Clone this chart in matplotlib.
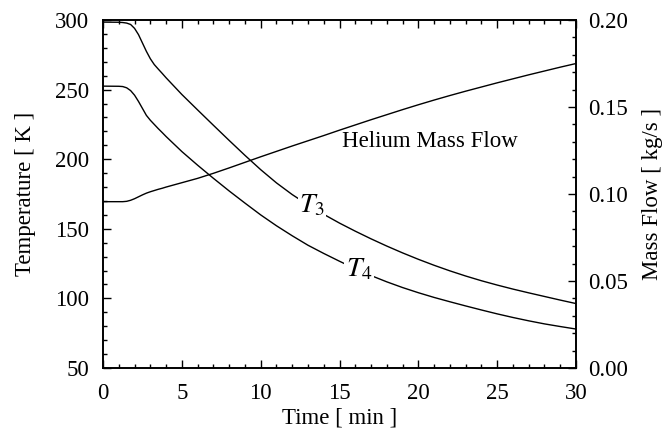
import matplotlib
matplotlib.use('Agg')
import matplotlib.pyplot as plt
from matplotlib.ticker import MultipleLocator

plt.rcParams['font.family'] = ['Liberation Serif', 'DejaVu Serif']
plt.rcParams['mathtext.fontset'] = 'stix'

# time [min]
time = [0, 1, 1.25, 1.5, 1.75, 2, 2.25, 2.5, 2.75, 3, 3.25, 3.5, 3.75, 4,
        5, 6, 7, 8, 9, 10, 11, 12, 13, 14, 15, 16, 17, 18, 19, 20, 21, 22,
        23, 24, 25, 26, 27, 28, 29, 30]
# temperatures [K]
t3 = [298.5, 298.4, 298.2, 297.8, 296.8, 294, 289.5, 283.5, 277.5, 272.2,
      268, 264.8, 261.7, 258.5, 246.5, 235.4, 224.4, 213.5, 202.8, 192.5,
      183, 174.6, 167.2, 160.4, 154.1, 148.3, 142.8, 137.6, 132.7, 128.1,
      123.8, 119.8, 116.1, 112.7, 109.6, 106.7, 104, 101.4, 98.8, 96.3]
t4 = [252.5, 252.4, 252.2, 251.3, 249.3, 246, 241.5, 236.5, 231.5, 228,
      225, 222, 219.2, 216.3, 205.5, 195.7, 186.3, 177.2, 168.5, 160,
      152.2, 145, 138.2, 132.3, 126.7, 121.3, 116.4, 111.9, 107.8, 104.1,
      100.7, 97.6, 94.6, 91.7, 88.9, 86.3, 83.9, 81.7, 79.8, 78]
# helium mass flow [kg/s]
flow = [0.0956, 0.0956, 0.0956, 0.0958, 0.0964, 0.0973, 0.0984, 0.0995,
        0.1005, 0.1013, 0.1020, 0.1027, 0.1033, 0.1040, 0.1065, 0.1090,
        0.1119, 0.1150, 0.1182, 0.1214, 0.1245, 0.1276, 0.1306, 0.1336,
        0.1367, 0.1397, 0.1427, 0.1456, 0.1485, 0.1513, 0.1540, 0.1566,
        0.1591, 0.1615, 0.1639, 0.1662, 0.1685, 0.1707, 0.1729, 0.1750]

fig = plt.figure(figsize=(6.69, 4.40), dpi=100)
ax = fig.add_axes([0.154, 0.1636, 0.707, 0.7909])
ax2 = ax.twinx()

ax.plot(time, t3, color='black', lw=1.0)
ax.plot(time, t4, color='black', lw=1.0)
ax2.plot(time, flow, color='black', lw=1.0)

ax.set_xlim(0, 30)
ax.set_ylim(50, 300)
ax2.set_ylim(0, 0.2)

ax.xaxis.set_major_locator(MultipleLocator(5))
ax.xaxis.set_minor_locator(MultipleLocator(1))
ax.yaxis.set_major_locator(MultipleLocator(50))
ax.yaxis.set_minor_locator(MultipleLocator(10))
ax2.yaxis.set_major_locator(MultipleLocator(0.05))
ax2.yaxis.set_minor_locator(MultipleLocator(0.01))
ax2.yaxis.set_major_formatter(plt.FormatStrFormatter('%.2f'))

ax.tick_params(axis='x', which='both', direction='in', top=True, labelsize=16.5, pad=11)
ax.tick_params(axis='y', which='both', direction='in', right=False, labelsize=16.5, pad=10)
ax2.tick_params(axis='y', which='both', direction='in', labelsize=16.5, pad=9)
for a in (ax, ax2):
    a.tick_params(which='major', length=6, width=1)
    a.tick_params(which='minor', length=3, width=1)
    for s in a.spines.values():
        s.set_linewidth(1.2)

ax.set_xlabel('Time [ min ]', fontsize=16.5, labelpad=2)
ax.set_ylabel('Temperature [ K ]', fontsize=16.5, labelpad=14)
ax2.set_ylabel('Mass Flow [ kg/s ]', fontsize=16.5, labelpad=10)

box = dict(facecolor='white', edgecolor='none', pad=1)
ax.text(13.26, 167, '$T_3$', fontsize=20, ha='center', va='center', bbox=box)
ax.text(16.24, 120.4, '$T_4$', fontsize=20, ha='center', va='center', bbox=box)
ax.text(20.74, 212.4, 'Helium Mass Flow', fontsize=16.5, ha='center', va='center')

fig.savefig('out.png', dpi=100)
